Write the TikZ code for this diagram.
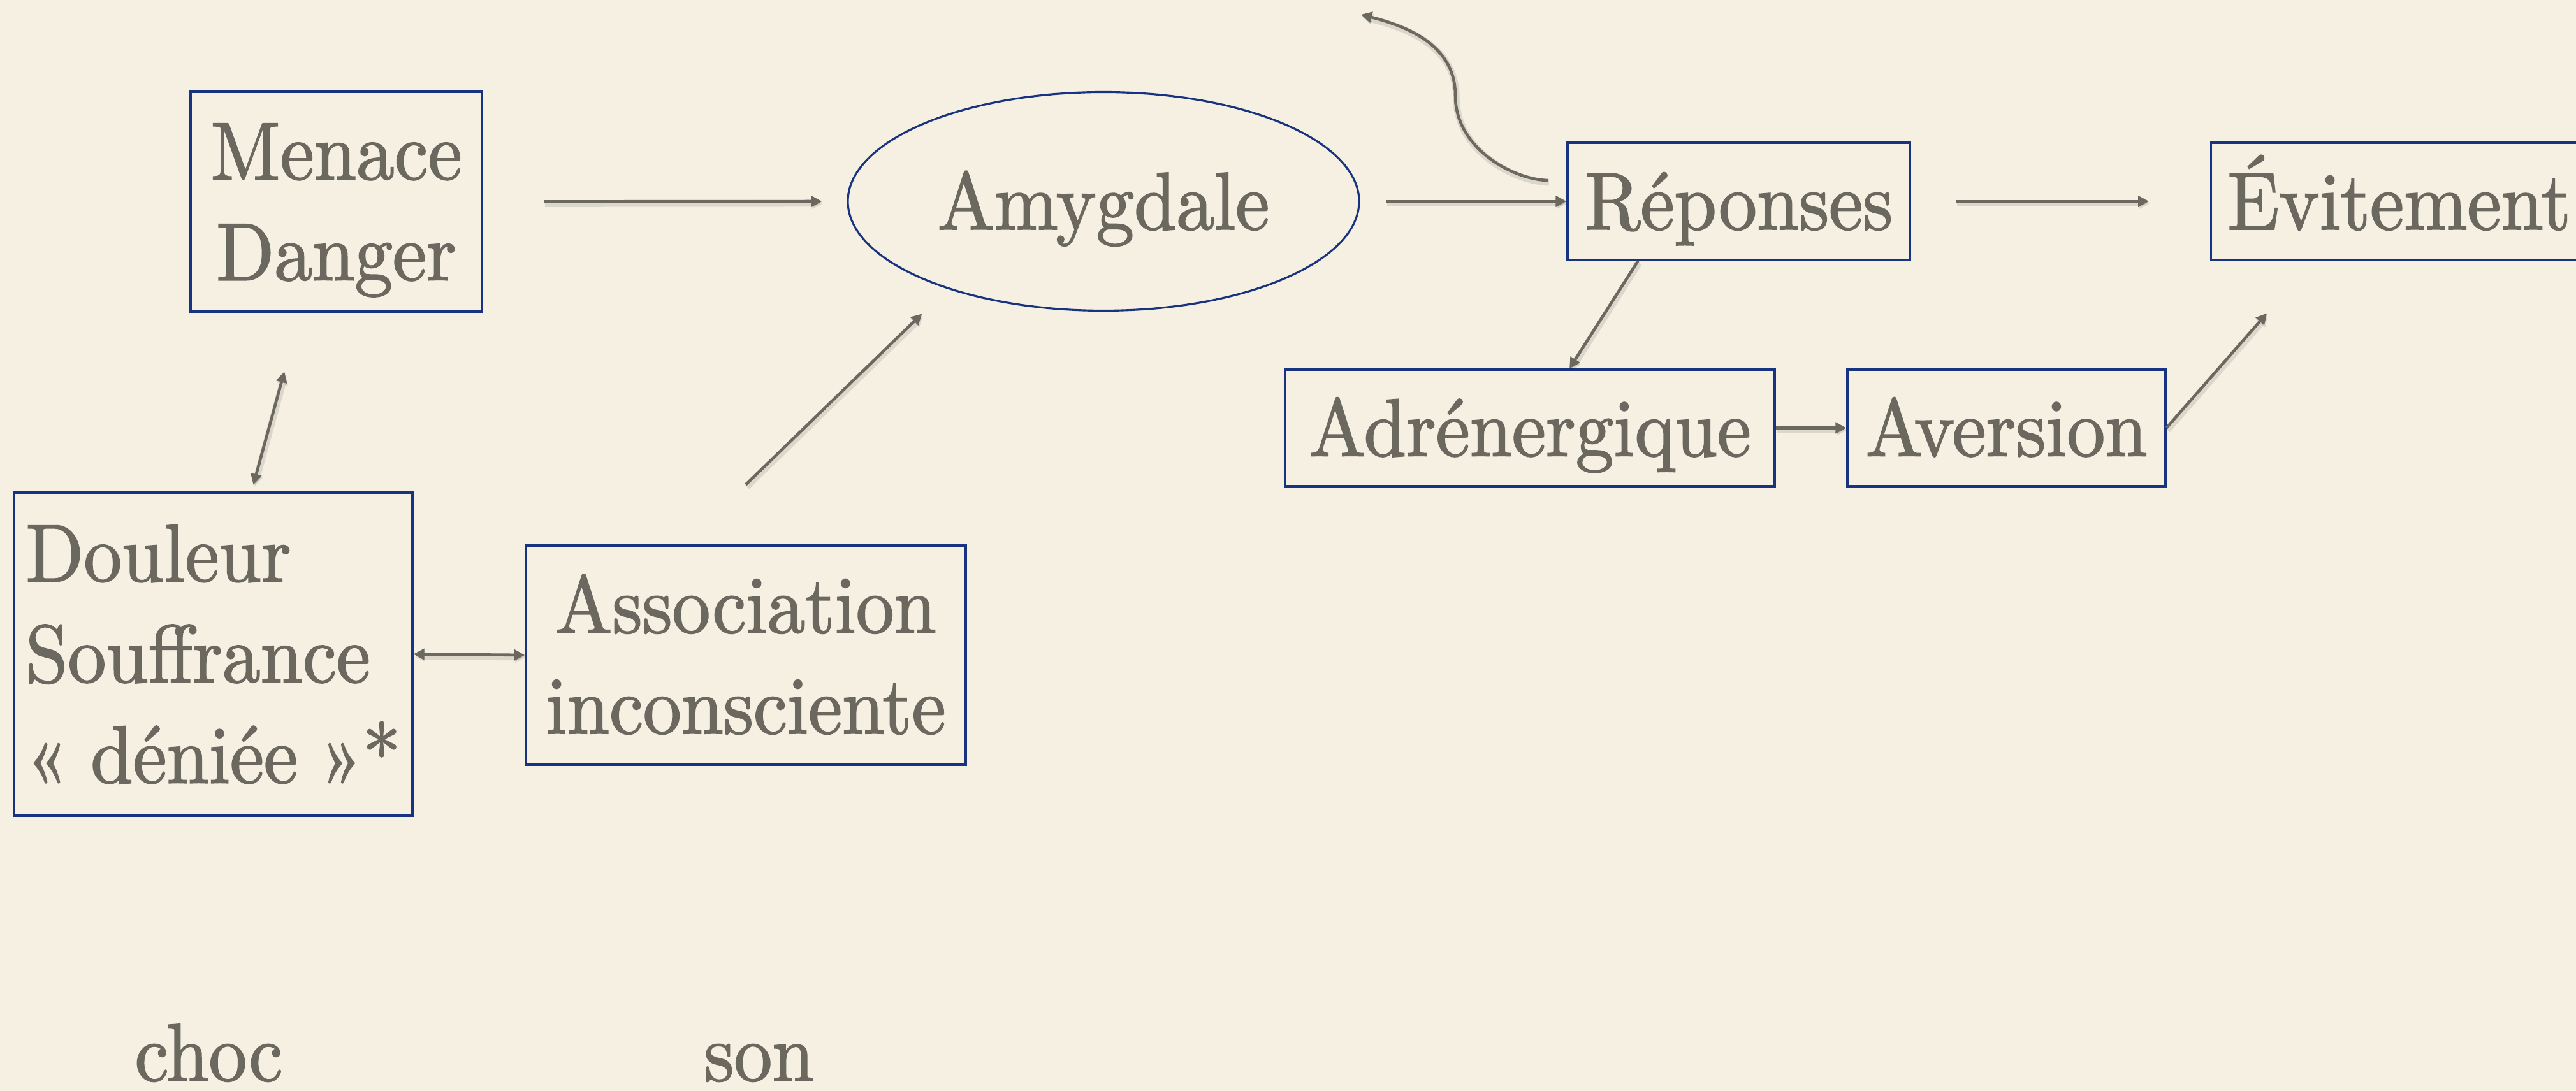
\documentclass[tikz,border=0pt]{standalone}
\usepackage{fontspec}
\setmainfont{lmroman10-regular.otf}[FakeStretch=0.93,FakeBold=1.5]
\usetikzlibrary{arrows.meta,shapes.geometric}
\definecolor{paper}{RGB}{246,240,227}
\definecolor{ink}{RGB}{107,104,96}
\definecolor{boxblue}{RGB}{24,52,128}
\begin{document}
\begin{tikzpicture}[
    word/.style={text=ink,font=\fontsize{36.5}{45}\selectfont,inner sep=0pt},
    box/.style={word,draw=boxblue,line width=0.9pt,align=center,text height=0.88cm,text depth=0pt},
    tworows/.style={text height=0.88cm+45pt},
    threerows/.style={text height=0.88cm+90pt},
    link/.style={draw=ink,line width=1.3pt,-{Triangle[length=0.17cm,width=0.17cm]},
        preaction={draw=black,opacity=0.1,line width=3pt,transform canvas={xshift=0.4pt,yshift=-0.9pt}}},
    twoway/.style={link,{Triangle[length=0.17cm,width=0.17cm]}-{Triangle[length=0.17cm,width=0.17cm]}}]
    \useasboundingbox (0,0) rectangle (40.41,17.12);
    \fill[paper] (0,0) rectangle (40.41,17.12);
    \node[box,tworows,minimum width=4.57cm,minimum height=3.45cm] (menace) at (5.275,13.955) {Menace\\Danger};
    \node[box,ellipse,minimum width=8.02cm,minimum height=3.43cm] (amyg) at (17.31,13.96) {Amygdale};
    \node[box,minimum width=5.37cm,minimum height=1.84cm] (rep) at (27.275,13.96) {Réponses};
    \node[box,minimum width=5.9cm,minimum height=1.84cm,anchor=west] (evit) at (34.67,13.96) {Évitement};
    \node[box,minimum width=7.68cm,minimum height=1.83cm] (adr) at (24.00,10.405) {Adrénergique};
    \node[box,minimum width=4.99cm,minimum height=1.83cm] (aver) at (31.475,10.405) {Aversion};
    \node[box,threerows,align=left,minimum width=6.25cm,minimum height=5.07cm] (doul) at (3.345,6.855) {Douleur\\Souffrance\\«\;déniée\;»*};
    \node[box,tworows,minimum width=6.90cm,minimum height=3.44cm] (assoc) at (11.70,6.84) {Association\\inconsciente};
    \node[word,anchor=base] (choc) at (3.275,0.16) {choc};
    \node[word,anchor=base] (son) at (11.91,0.16) {son};
    \coordinate (back) at (21.35,16.89);
    \draw [link,shorten <=0.96cm,shorten >=0.39cm] (menace.east) -- (amyg.west);
    \draw [link,shorten <=0.41cm] (amyg.east) -- (rep.west);
    \draw [link,shorten <=0.71cm,shorten >=0.96cm] (rep.east) -- (evit.west);
    \draw [link] ([xshift=-1.58cm]rep.south) -- ([xshift=0.62cm]adr.north);
    \draw [link] (adr.east) -- (aver.west);
    \draw [link,shorten >=1.09cm] (aver.east) -- ([xshift=1.61cm]evit.south west);
    \draw [link] ([yshift=0.94cm]assoc.north) -- ([yshift=-0.54cm]amyg.south west);
    \draw [twoway,shorten <=0.96cm,shorten >=0.11cm] ([xshift=-0.56cm]menace.south) -- ([xshift=0.6cm]doul.north);
    \draw [twoway] (doul.east) -- (assoc.west);
    \draw [link] ([xshift=-0.29cm,yshift=0.33cm]rep.west) .. controls (23.8,14.29) and (22.83,14.75) .. (22.83,15.62)
        .. controls (22.83,16.4) and (22.1,16.7) .. (back);
\end{tikzpicture}
\end{document}
